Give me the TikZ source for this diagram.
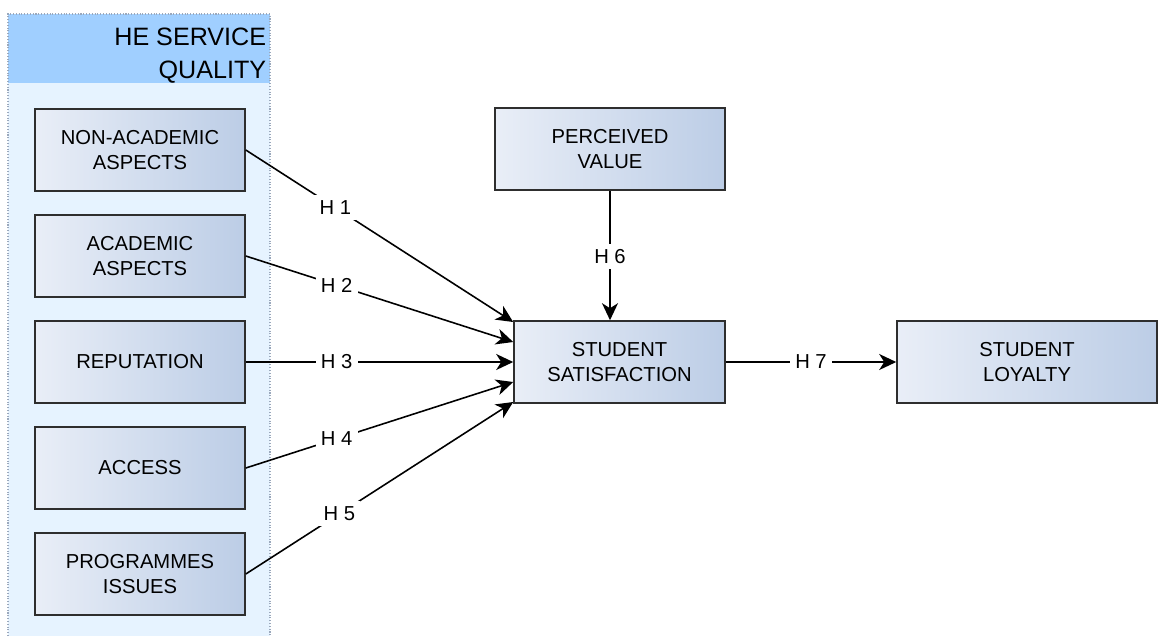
\documentclass[tikz,border=0pt]{standalone}
\usepackage{fontspec}
\setmainfont{Liberation Sans}
\usepackage{tikz}
\usetikzlibrary{arrows.meta, calc}
\definecolor{hdrblue}{HTML}{A0CFFF}
\definecolor{grpblue}{HTML}{E6F3FF}
\definecolor{grpline}{HTML}{9AA8BC}
\definecolor{boxleft}{HTML}{E9EEF7}
\definecolor{boxright}{HTML}{BCCDE6}
\definecolor{boxline}{HTML}{2E2E2E}

\tikzset{
  factor/.style={rectangle, draw=boxline, line width=0.9pt, left color=boxleft, right color=boxright,
    minimum width=4.2cm, minimum height=1.64cm, align=center, font=\fontsize{11.5}{14}\selectfont},
  hyp/.style={draw=black, line width=0.9pt, -{Stealth[length=3.4mm, width=3.2mm, inset=1mm]}},
  hlabel/.style={fill=white, inner sep=3pt, font=\fontsize{11.5}{14}\selectfont}
}

\begin{document}
\begin{tikzpicture}
    \useasboundingbox (0,0) rectangle (23.18,-12.72);

    \fill[grpblue] (0.16,-0.28) rectangle (5.4,-12.72);
    \fill[hdrblue] (0.16,-0.28) rectangle (5.4,-1.66);
    \draw[grpline, densely dotted, line width=0.6pt] (0.16,-12.72) -- (0.16,-0.28) -- (5.4,-0.28) -- (5.4,-12.72);
    \node[anchor=north east, align=right, inner sep=2pt, font=\fontsize{14.3}{18.7}\selectfont] (hsq) at (5.4,-0.48) {HE SERVICE\hspace{0.2cm}\\QUALITY};

    \node[factor] (nonacad) at (2.8,-3.0) {NON-ACADEMIC\\ASPECTS};
    \node[factor] (acad) at (2.8,-5.12) {ACADEMIC\\ASPECTS};
    \node[factor] (rep) at (2.8,-7.24) {REPUTATION};
    \node[factor] (access) at (2.8,-9.36) {ACCESS};
    \node[factor] (prog) at (2.8,-11.48) {PROGRAMMES\\ISSUES};

    \node[factor, minimum width=4.6cm] (value) at (12.2,-2.98) {PERCEIVED\\VALUE};
    \node[factor, minimum width=4.22cm] (satis) at (12.39,-7.24) {STUDENT\\SATISFACTION};
    \node[factor, minimum width=5.2cm] (loyal) at (20.54,-7.24) {STUDENT\\LOYALTY};

    \draw[hyp] (nonacad.east) -- node[hlabel, pos=0.335] {H 1} ([yshift=0.8cm]satis.west);
    \draw[hyp] (acad.east) -- node[hlabel, pos=0.34] {H 2} ([yshift=0.4cm]satis.west);
    \draw[hyp] (rep.east) -- node[hlabel, pos=0.34] {H 3} (satis.west);
    \draw[hyp] (access.east) -- node[hlabel, pos=0.34] {H 4} ([yshift=-0.4cm]satis.west);
    \draw[hyp] (prog.east) -- node[hlabel, pos=0.35] {H 5} ([yshift=-0.8cm]satis.west);
    \draw[hyp] (value.south) -- node[hlabel, pos=0.51] {H 6} (value.south |- satis.north);
    \draw[hyp] (satis.east) -- node[hlabel, pos=0.5] {H 7} (loyal.west);
\end{tikzpicture}
\end{document}
